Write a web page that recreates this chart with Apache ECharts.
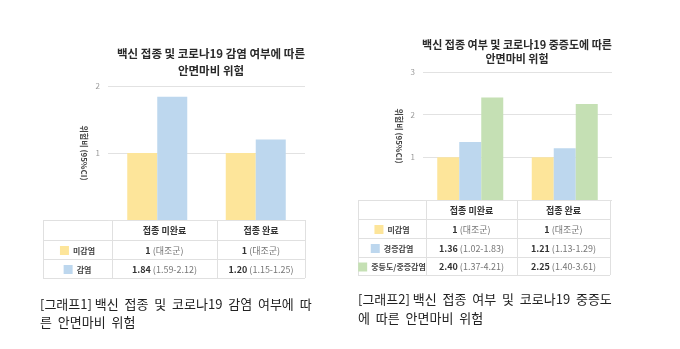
<!DOCTYPE html>
<html><head><meta charset="utf-8">
<script src="https://cdn.jsdelivr.net/npm/echarts@6/dist/echarts.min.js"></script>
<style>html,body{margin:0;padding:0;background:#fff}#c{width:680px;height:349px}</style>
</head><body><div id="c"></div>
<script>
// ---- data ----
const categories = ['접종 미완료', '접종 완료'];
// Chart 1
const c1Names = ['미감염', '감염'];
const c1Uninfected = [1, 1];
const c1Infected = [1.84, 1.20];
const c1UninfectedCI = ['(대조군)', '(대조군)'];
const c1InfectedCI = ['(1.59-2.12)', '(1.15-1.25)'];
const c1Ticks = [0, 1, 2];
// Chart 2
const c2Names = ['미감염', '경증감염', '중등도/중증감염'];
const c2Uninfected = [1, 1];
const c2Mild = [1.36, 1.21];
const c2Severe = [2.40, 2.25];
const c2UninfectedCI = ['(대조군)', '(대조군)'];
const c2MildCI = ['(1.02-1.83)', '(1.13-1.29)'];
const c2SevereCI = ['(1.37-4.21)', '(1.40-3.61)'];
const c2Ticks = [0, 1, 2, 3];

const colors = ['#FDE59A', '#BDD7EE', '#C5E0B4'];
const FONT = '"Noto Sans CJK KR", "Noto Sans", sans-serif';

const chart = echarts.init(document.getElementById('c'));

function yAxisCfg(idx, max) {
  return {
    gridIndex: idx, type: 'value', min: 0, max: max, interval: 1,
    name: '위험비 (95%CI)', nameLocation: 'middle', nameRotate: -90, nameGap: 20,
    nameTextStyle: { fontFamily: FONT, fontSize: 8, fontWeight: 'bold', color: '#444' },
    axisLine: { show: false }, axisTick: { show: false },
    axisLabel: { fontFamily: FONT, fontSize: 8, color: '#999', margin: 8,
      formatter: v => (v === 0 ? '' : String(v)) },
    splitLine: { lineStyle: { color: '#e2e2e2', width: 1 } }
  };
}

// ---- table builder ----
const rich = {
  b: { fontFamily: FONT, fontSize: 9, fontWeight: 'bold', fill: '#333', color: '#333' },
  v: { fontFamily: FONT, fontSize: 9, fontWeight: 'bold', fill: '#333', color: '#333' },
  g: { fontFamily: FONT, fontSize: 9, fill: '#777', color: '#777' },
  lb: { fontFamily: FONT, fontSize: 8, fontWeight: 'bold', fill: '#444', color: '#444' },
  s0: { width: 9, height: 9, backgroundColor: colors[0] },
  s1: { width: 9, height: 9, backgroundColor: colors[1] },
  s2: { width: 9, height: 9, backgroundColor: colors[2] }
};
function buildTable(xs, ys, rows) {
  const els = [];
  const lineStyle = { stroke: '#e0e0e0', lineWidth: 1 };
  for (const y of ys) els.push({ type: 'line', shape: { x1: xs[0], y1: y + 0.5, x2: xs[xs.length - 1], y2: y + 0.5 }, style: lineStyle, silent: true });
  for (const x of xs) els.push({ type: 'line', shape: { x1: x + 0.5, y1: ys[0], x2: x + 0.5, y2: ys[ys.length - 1] }, style: lineStyle, silent: true });
  rows.forEach((row, r) => {
    row.forEach((txt, c) => {
      if (!txt) return;
      els.push({ type: 'text', x: (xs[c] + xs[c + 1]) / 2, y: (ys[r] + ys[r + 1]) / 2 + 1,
        style: { text: txt, align: 'center', verticalAlign: 'middle', rich: rich, font: '9px ' + FONT, fill: '#333' }, silent: true });
    });
  });
  return els;
}
const hdr = ['', '{b|' + categories[0] + '}', '{b|' + categories[1] + '}'];
const valCell = (v, ci) => '{v|' + (Number.isInteger(v) ? v : v.toFixed(2)) + '} {g|' + ci + '}';
const labCell = (i, name) => '{s' + i + '|}  {lb|' + name + '}';

const table1 = buildTable([43, 112, 217, 305], [220, 240, 259, 278], [
  hdr,
  [labCell(0, c1Names[0]), valCell(c1Uninfected[0], c1UninfectedCI[0]), valCell(c1Uninfected[1], c1UninfectedCI[1])],
  [labCell(1, c1Names[1]), valCell(c1Infected[0], c1InfectedCI[0]), valCell(c1Infected[1], c1InfectedCI[1])]
]);
const table2 = buildTable([358, 426, 517, 610], [200, 219, 238, 257, 275], [
  hdr,
  [labCell(0, c2Names[0]), valCell(c2Uninfected[0], c2UninfectedCI[0]), valCell(c2Uninfected[1], c2UninfectedCI[1])],
  [labCell(1, c2Names[1]), valCell(c2Mild[0], c2MildCI[0]), valCell(c2Mild[1], c2MildCI[1])],
  [labCell(2, c2Names[2]), valCell(c2Severe[0], c2SevereCI[0]), valCell(c2Severe[1], c2SevereCI[1])]
]);

const captionStyle = { font: '13px ' + FONT, fill: '#222' };
const captions = [
  { type: 'text', x: 40, y: 295, style: Object.assign({ text: '[그래프1] 백신  접종  및  코로나19  감염  여부에  따\n른  안면마비  위험', lineHeight: 18 }, captionStyle), silent: true },
  { type: 'text', x: 358, y: 290, style: Object.assign({ text: '[그래프2] 백신  접종  여부  및  코로나19  중증도\n에  따른  안면마비  위험', lineHeight: 19 }, captionStyle), silent: true }
];

chart.setOption({
  animation: false,
  title: [
    { text: '백신 접종 및 코로나19 감염 여부에 따른\n안면마비 위험', left: 211, top: 45, textAlign: 'center', padding: 0,
      textStyle: { fontFamily: FONT, fontSize: 11.5, fontWeight: 'bold', color: '#2a2a2a', lineHeight: 17 } },
    { text: '백신 접종 여부 및 코로나19 중증도에 따른\n안면마비 위험', left: 517, top: 38, textAlign: 'center', padding: 0,
      textStyle: { fontFamily: FONT, fontSize: 11, fontWeight: 'bold', color: '#2a2a2a', lineHeight: 14 } }
  ],
  grid: [
    { left: 108, right: 375, top: 86, bottom: 129 },
    { left: 423, right: 68, top: 72, bottom: 149 }
  ],
  xAxis: [
    { gridIndex: 0, type: 'category', data: categories, axisLine: { show: false }, axisTick: { show: false }, axisLabel: { show: false } },
    { gridIndex: 1, type: 'category', data: categories, axisLine: { show: false }, axisTick: { show: false }, axisLabel: { show: false } }
  ],
  yAxis: [yAxisCfg(0, c1Ticks[c1Ticks.length - 1]), yAxisCfg(1, c2Ticks[c2Ticks.length - 1])],
  series: [
    { name: c1Names[0], type: 'bar', xAxisIndex: 0, yAxisIndex: 0, data: c1Uninfected, barWidth: 30, barGap: '0%', itemStyle: { color: colors[0] } },
    { name: c1Names[1], type: 'bar', xAxisIndex: 0, yAxisIndex: 0, data: c1Infected, barWidth: 30, barGap: '0%', itemStyle: { color: colors[1] } },
    { name: c2Names[0], type: 'bar', xAxisIndex: 1, yAxisIndex: 1, data: c2Uninfected, barWidth: 22, barGap: '0%', itemStyle: { color: colors[0] } },
    { name: c2Names[1], type: 'bar', xAxisIndex: 1, yAxisIndex: 1, data: c2Mild, barWidth: 22, barGap: '0%', itemStyle: { color: colors[1] } },
    { name: c2Names[2], type: 'bar', xAxisIndex: 1, yAxisIndex: 1, data: c2Severe, barWidth: 22, barGap: '0%', itemStyle: { color: colors[2] } }
  ],
  graphic: [].concat(table1, table2, captions)
});
</script></body></html>
